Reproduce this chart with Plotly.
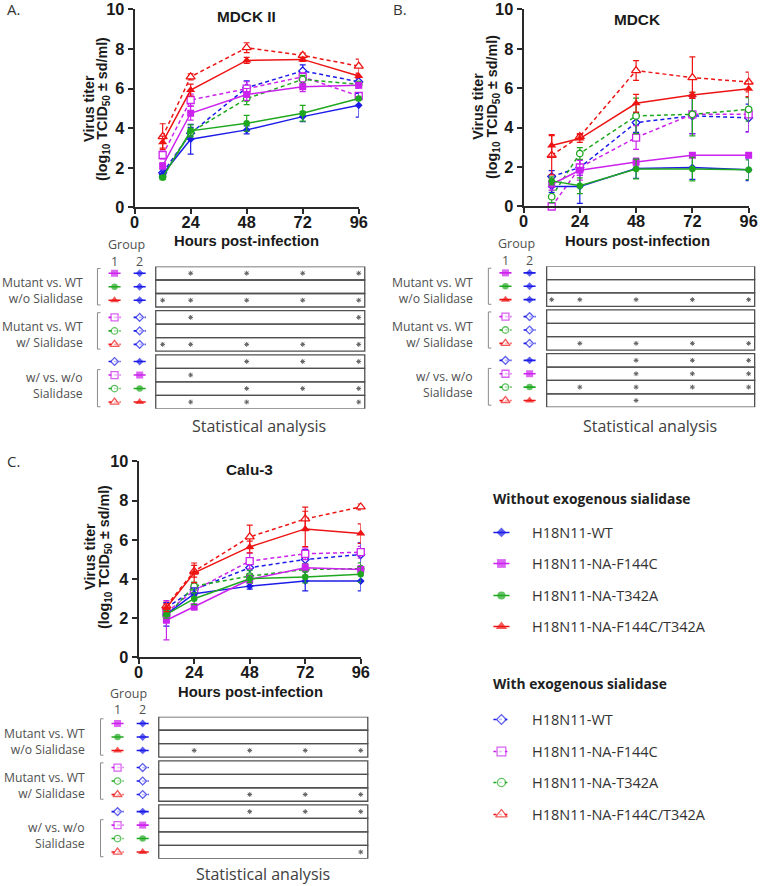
import plotly.graph_objects as go

W, H = 760, 886          # reference canvas
OFF_X, OFF_Y = 8, 9.5    # observed page offset of the figure
S_X, S_Y = 0.977, 0.98   # observed capture scale
FIG_W, FIG_H = 770, 898

HOURS = [12, 24, 48, 72, 96]
X_TICKS = [0, 24, 48, 72, 96]
Y_TICKS = [0, 2, 4, 6, 8, 10]
VIRUSES = ["WT", "F144C", "T342A", "F144C/T342A"]
VIRUS_LABELS = ["H18N11-WT", "H18N11-NA-F144C", "H18N11-NA-T342A", "H18N11-NA-F144C/T342A"]
PANEL_TITLES = ["MDCK II", "MDCK", "Calu-3"]
PANEL_LETTERS = ["A.", "B.", "C."]
GROUP_LABELS = ["Mutant vs. WT<br>w/o Sialidase", "Mutant vs. WT<br>w/ Sialidase", "w/ vs. w/o<br>Sialidase"]
LEGEND_HEADERS = ["Without exogenous sialidase", "With exogenous sialidase"]

# ---------------- Panel A: MDCK II ----------------
A_WT_WO = [1.68, 3.45, 3.92, 4.59, 5.16]
A_WT_WO_SD = [0.15, 0.75, 0.2, 0.25, 0.6]
A_F144C_WO = [2.1, 4.76, 5.71, 6.1, 6.17]
A_F144C_WO_SD = [0.15, 0.35, 0.3, 0.25, 0.15]
A_T342A_WO = [1.51, 3.87, 4.25, 4.76, 5.5]
A_T342A_WO_SD = [0.1, 0.3, 0.4, 0.4, 0.1]
A_DBL_WO = [3.3, 5.93, 7.43, 7.48, 6.64]
A_DBL_WO_SD = [0.3, 0.3, 0.15, 0.1, 0.1]
A_WT_W = [1.75, 3.75, 6.05, 6.9, 6.35]
A_WT_W_SD = [0.2, 0.3, 0.35, 0.3, 0.15]
A_F144C_W = [2.65, 5.43, 6.0, 6.6, 5.63]
A_F144C_W_SD = [0.2, 0.3, 0.35, 0.2, 0.15]
A_T342A_W = [1.55, 3.8, 5.5, 6.47, 6.22]
A_T342A_W_SD = [0.1, 0.2, 0.3, 0.2, 0.1]
A_DBL_W = [3.58, 6.6, 8.07, 7.68, 7.14]
A_DBL_W_SD = [0.65, 0.15, 0.25, 0.12, 0.35]

# ---------------- Panel B: MDCK ----------------
B_WT_WO = [1.01, 1.01, 1.93, 1.98, 1.86]
B_WT_WO_SD = [0.3, 0.85, 0.5, 0.6, 0.55]
B_F144C_WO = [1.13, 1.84, 2.26, 2.6, 2.6]
B_F144C_WO_SD = [0.3, 0.5, 0.2, 0.1, 0.1]
B_T342A_WO = [1.3, 1.05, 1.9, 1.9, 1.86]
B_T342A_WO_SD = [0.2, 0.4, 0.5, 0.6, 0.5]
B_DBL_WO = [3.1, 3.45, 5.24, 5.66, 5.98]
B_DBL_WO_SD = [0.55, 0.2, 0.45, 0.15, 0.4]
B_WT_W = [1.52, 1.98, 4.26, 4.6, 4.5]
B_WT_W_SD = [0.3, 0.4, 0.5, 0.9, 0.7]
B_F144C_W = [0.0, 1.98, 3.5, 4.68, 4.68]
B_F144C_W_SD = [0.1, 0.4, 0.6, 1.0, 0.9]
B_T342A_W = [0.5, 2.69, 4.6, 4.68, 4.93]
B_T342A_W_SD = [0.3, 0.3, 0.9, 1.1, 0.6]
B_DBL_W = [2.6, 3.55, 6.9, 6.54, 6.32]
B_DBL_W_SD = [1.0, 0.15, 0.5, 1.05, 0.5]

# ---------------- Panel C: Calu-3 ----------------
C_WT_WO = [2.2, 3.25, 3.64, 3.9, 3.9]
C_WT_WO_SD = [0.6, 0.3, 0.15, 0.5, 0.5]
C_F144C_WO = [1.9, 2.58, 3.98, 4.58, 4.49]
C_F144C_WO_SD = [1.0, 0.15, 0.2, 0.2, 0.2]
C_T342A_WO = [2.2, 3.0, 4.02, 4.1, 4.24]
C_T342A_WO_SD = [0.2, 0.3, 0.2, 0.3, 0.4]
C_DBL_WO = [2.54, 4.32, 5.64, 6.56, 6.32]
C_DBL_WO_SD = [0.2, 0.5, 0.3, 0.9, 0.5]
C_WT_W = [2.54, 3.47, 4.58, 5.0, 5.25]
C_WT_W_SD = [0.2, 0.3, 0.3, 0.5, 0.6]
C_F144C_W = [2.3, 3.42, 4.92, 5.29, 5.37]
C_F144C_W_SD = [0.3, 0.3, 0.4, 0.3, 0.3]
C_T342A_W = [2.1, 3.64, 4.15, 4.49, 4.53]
C_T342A_W_SD = [0.2, 0.2, 0.3, 0.3, 0.3]
C_DBL_W = [2.63, 4.4, 6.15, 7.07, 7.68]
C_DBL_W_SD = [0.2, 0.3, 0.6, 0.6, 0.15]

# ---------------- Statistical analysis (hours with significance) ----------------
SIG_A = [[24, 48, 72, 96], [], [12, 24, 48, 72, 96],
         [24, 96], [], [12, 24, 48, 72, 96],
         [48, 72, 96], [24], [48, 72, 96], [24, 48, 96]]
SIG_B = [[], [], [12, 24, 48, 72, 96],
         [], [], [24, 48, 72, 96],
         [48, 72, 96], [48, 72, 96], [24, 48, 72, 96], [48]]
SIG_C = [[], [], [24, 48, 72, 96],
         [], [], [48, 72, 96],
         [48, 72, 96], [], [], [96]]

# comparison rows: (group 1 series, group 2 series)
ROW_PAIRS = [
    (("F144C", "wo"), ("WT", "wo")),
    (("T342A", "wo"), ("WT", "wo")),
    (("F144C/T342A", "wo"), ("WT", "wo")),
    (("F144C", "w"), ("WT", "w")),
    (("T342A", "w"), ("WT", "w")),
    (("F144C/T342A", "w"), ("WT", "w")),
    (("WT", "w"), ("WT", "wo")),
    (("F144C", "w"), ("F144C", "wo")),
    (("T342A", "w"), ("T342A", "wo")),
    (("F144C/T342A", "w"), ("F144C/T342A", "wo")),
]

DATA = [
    {("WT", "wo"): (A_WT_WO, A_WT_WO_SD), ("F144C", "wo"): (A_F144C_WO, A_F144C_WO_SD),
     ("T342A", "wo"): (A_T342A_WO, A_T342A_WO_SD), ("F144C/T342A", "wo"): (A_DBL_WO, A_DBL_WO_SD),
     ("WT", "w"): (A_WT_W, A_WT_W_SD), ("F144C", "w"): (A_F144C_W, A_F144C_W_SD),
     ("T342A", "w"): (A_T342A_W, A_T342A_W_SD), ("F144C/T342A", "w"): (A_DBL_W, A_DBL_W_SD)},
    {("WT", "wo"): (B_WT_WO, B_WT_WO_SD), ("F144C", "wo"): (B_F144C_WO, B_F144C_WO_SD),
     ("T342A", "wo"): (B_T342A_WO, B_T342A_WO_SD), ("F144C/T342A", "wo"): (B_DBL_WO, B_DBL_WO_SD),
     ("WT", "w"): (B_WT_W, B_WT_W_SD), ("F144C", "w"): (B_F144C_W, B_F144C_W_SD),
     ("T342A", "w"): (B_T342A_W, B_T342A_W_SD), ("F144C/T342A", "w"): (B_DBL_W, B_DBL_W_SD)},
    {("WT", "wo"): (C_WT_WO, C_WT_WO_SD), ("F144C", "wo"): (C_F144C_WO, C_F144C_WO_SD),
     ("T342A", "wo"): (C_T342A_WO, C_T342A_WO_SD), ("F144C/T342A", "wo"): (C_DBL_WO, C_DBL_WO_SD),
     ("WT", "w"): (C_WT_W, C_WT_W_SD), ("F144C", "w"): (C_F144C_W, C_F144C_W_SD),
     ("T342A", "w"): (C_T342A_W, C_T342A_W_SD), ("F144C/T342A", "w"): (C_DBL_W, C_DBL_W_SD)},
]
SIGS = [SIG_A, SIG_B, SIG_C]

# ---------------- styles ----------------
COLORS = {"WT": "#1c1ce8", "F144C": "#cc22ee", "T342A": "#1fa81f", "F144C/T342A": "#ee1414"}
SYMBOLS = {"WT": "diamond", "F144C": "square", "T342A": "circle", "F144C/T342A": "triangle-up"}
SIZES = {"WT": 6, "F144C": 7, "T342A": 6.5, "F144C/T342A": 8}
DASH_W = "4px,3px"
AXIS_COLOR = "#2a2a2a"
BOLD_FONT = "Liberation Sans"
TEXT_FONT = "Open Sans"

# panel geometry in (reference) pixels
GEOM = [
    dict(cx=(137, 360), cy=(10, 208), tx=(8, 378), ty=(267, 409.3), box=(158, 366), lab=88, brk=100,
         cols=(117, 142), grp=(129, 245), nums_y=262.5, title=(248, 17), xlab=(248, 242),
         ytl=(92, 106), yty=109, stat=(261, 427), letter=(8, 10)),
    dict(cx=(524, 748), cy=(10, 207), tx=(382, 756), ty=(266.7, 407.7), box=(547, 754), lab=476, brk=489,
         cols=(506, 530), grp=(517, 244), nums_y=261.5, title=(637, 20), xlab=(637, 242),
         ytl=(479, 494), yty=107, stat=(650, 427), letter=(392, 10)),
    dict(cx=(141, 362), cy=(462, 658), tx=(8, 378), ty=(717.3, 859.3), box=(161, 369), lab=90, brk=103,
         cols=(120, 145), grp=(131, 694), nums_y=710.5, title=(251, 470), xlab=(252, 693),
         ytl=(93, 108), yty=557, stat=(265, 875), letter=(8, 462)),
]

GAP = 0.27
ROW_TOPS = [0, 1, 2, 3 + GAP, 4 + GAP, 5 + GAP, 6 + 2 * GAP, 7 + 2 * GAP, 8 + 2 * GAP, 9 + 2 * GAP]
ROW_TOTAL = 10 + 2 * GAP


def px_x(p):
    return (p - OFF_X) / S_X / FIG_W


def px_y(p):
    return 1 - (p - OFF_Y) / S_Y / FIG_H


def fs(size):
    return size / S_X


def names(n):
    s = "" if n == 1 else str(n)
    return "x" + s, "y" + s, "xaxis" + s, "yaxis" + s


fig = go.Figure()
layout = dict(width=FIG_W, height=FIG_H, margin=dict(l=0, r=0, t=0, b=0), paper_bgcolor="white",
              plot_bgcolor="rgba(0,0,0,0)", showlegend=False)
annotations = []
shapes = []


def marker_for(v, cond, scale=1.0):
    c = COLORS[v]
    if cond == "wo":
        return dict(symbol=SYMBOLS[v], size=SIZES[v] * scale, color=c, line=dict(width=0))
    return dict(symbol=SYMBOLS[v], size=SIZES[v] * scale, color="white", line=dict(color=c, width=1.3))


def glyph(xa, ya, xc, yc, half, v, cond, scale=1.0):
    m = marker_for(v, cond, scale)
    m["size"] = [0, m["size"], 0]
    fig.add_trace(go.Scatter(
        x=[xc - half, xc, xc + half], y=[yc, yc, yc], xaxis=xa, yaxis=ya, mode="lines+markers",
        line=dict(color=COLORS[v], width=1.6, dash=("solid" if cond == "wo" else "3px,2.5px")),
        marker=m, cliponaxis=False, hoverinfo="skip"))


for pi, g in enumerate(GEOM):
    nc, nt = 2 * pi + 1, 2 * pi + 2
    xa, ya, xk, yk = names(nc)
    txa, tya, txk, tyk = names(nt)
    cx0, cx1 = g["cx"]
    scale = 96.0 / (cx1 - cx0)

    def hrs(p, cx0=cx0, scale=scale):
        return (p - cx0) * scale

    # ---- chart axes ----
    layout[xk] = dict(domain=[px_x(cx0), px_x(cx1)], range=[0, 96], anchor=ya, tickvals=X_TICKS,
                      showline=True, linecolor=AXIS_COLOR, linewidth=2, ticks="outside", ticklen=5,
                      tickwidth=2, tickcolor=AXIS_COLOR, showgrid=False, zeroline=False,
                      ticklabelstandoff=-6,
                      tickfont=dict(family=BOLD_FONT, size=fs(16), color="#1a1a1a", weight="bold"))
    layout[yk] = dict(domain=[px_y(g["cy"][1]), px_y(g["cy"][0])], range=[0, 10], anchor=xa,
                      tickvals=Y_TICKS, showline=True, linecolor=AXIS_COLOR, linewidth=2,
                      ticks="outside", ticklen=5, tickwidth=2, tickcolor=AXIS_COLOR, showgrid=False,
                      zeroline=False, tickfont=dict(family=BOLD_FONT, size=fs(16), color="#1a1a1a", weight="bold"))
    # ---- series ----
    for cond in ["w", "wo"]:
        for v in VIRUSES:
            vals, sd = DATA[pi][(v, cond)]
            fig.add_trace(go.Scatter(
                x=HOURS, y=vals, xaxis=xa, yaxis=ya, mode="lines+markers",
                line=dict(color=COLORS[v], width=1.5, dash=(DASH_W if cond == "w" else "solid")),
                marker=marker_for(v, cond),
                error_y=dict(type="data", array=sd, visible=True, color=COLORS[v], thickness=1.2, width=3),
                cliponaxis=False, hoverinfo="skip"))

    # ---- table axes ----
    layout[txk] = dict(domain=[px_x(g["tx"][0]), px_x(g["tx"][1])],
                       range=[hrs(g["tx"][0]), hrs(g["tx"][1])], anchor=tya, visible=False)
    layout[tyk] = dict(domain=[px_y(g["ty"][1]), px_y(g["ty"][0])], range=[ROW_TOTAL, 0],
                       anchor=txa, visible=False)
    bx0, bx1 = hrs(g["box"][0]), hrs(g["box"][1])
    for r, top in enumerate(ROW_TOPS):
        shapes.append(dict(type="rect", xref=txa, yref=tya, x0=bx0, x1=bx1, y0=top, y1=top + 1,
                           line=dict(color="#505050", width=1.3), fillcolor="rgba(0,0,0,0)", layer="below"))
        (v1, c1), (v2, c2) = ROW_PAIRS[r]
        yc = top + 0.5
        half = 6 * scale
        glyph(txa, tya, hrs(g["cols"][0]), yc, half, v1, c1)
        glyph(txa, tya, hrs(g["cols"][1]), yc, half, v2, c2)
        hs = SIGS[pi][r]
        if hs:
            fig.add_trace(go.Scatter(
                x=hs, y=[yc] * len(hs), xaxis=txa, yaxis=tya, mode="markers",
                marker=dict(symbol="asterisk-open", size=4, color="#606060",
                            line=dict(color="#606060", width=1)),
                cliponaxis=False, hoverinfo="skip"))
    # brackets
    bk = hrs(g["brk"])
    tick = 3 * scale
    bracket_spans = [(ROW_TOPS[0] + 0.15, ROW_TOPS[2] + 0.85), (ROW_TOPS[3] + 0.15, ROW_TOPS[5] + 0.85),
                     (ROW_TOPS[7] + 0.1, ROW_TOPS[9] + 0.85)]
    for (y0, y1) in bracket_spans:
        shapes.append(dict(type="path", xref=txa, yref=tya,
                           path=f"M {bk + tick} {y0} L {bk} {y0} L {bk} {y1} L {bk + tick} {y1}",
                           line=dict(color="#8a8a8a", width=1)))
    # group labels
    label_centers = [1.8, 3 + GAP + 1.8, 6 + 2 * GAP + 2.3]
    for gi, txt in enumerate(GROUP_LABELS):
        annotations.append(dict(text=txt, xref=txa, yref=tya, x=hrs(g["lab"]), y=label_centers[gi],
                                xanchor="right", yanchor="middle", align="right", showarrow=False,
                                font=dict(family=TEXT_FONT, size=12.2, color="#505050")))
    # Group header
    annotations.append(dict(text="Group", xref="paper", yref="paper", x=px_x(g["grp"][0]), y=px_y(g["grp"][1]),
                            xanchor="center", yanchor="middle", showarrow=False, borderpad=0,
                            font=dict(family=TEXT_FONT, size=12.5, color="#505050")))
    for k, lab in enumerate(["1", "2"]):
        annotations.append(dict(text=lab, xref="paper", yref="paper", x=px_x(g["cols"][k]), y=px_y(g["nums_y"]),
                                xanchor="center", yanchor="middle", showarrow=False, borderpad=0,
                                font=dict(family=TEXT_FONT, size=12.5, color="#505050")))
    # titles
    annotations.append(dict(text=PANEL_TITLES[pi], xref="paper", yref="paper", x=px_x(g["title"][0]),
                            y=px_y(g["title"][1]), xanchor="center", yanchor="middle", showarrow=False,
                            font=dict(family=BOLD_FONT, size=fs(15), color="#1a1a1a", weight="bold")))
    annotations.append(dict(text="Hours post-infection", xref="paper", yref="paper", x=px_x(g["xlab"][0]),
                            y=px_y(g["xlab"][1]), xanchor="center", yanchor="middle", showarrow=False,
                            font=dict(family=BOLD_FONT, size=fs(14.5), color="#1a1a1a", weight="bold")))
    annotations.append(dict(text="Virus titer", xref="paper", yref="paper", x=px_x(g["ytl"][0]),
                            y=px_y(g["yty"]), xanchor="center", yanchor="middle", textangle=-90, showarrow=False,
                            font=dict(family=BOLD_FONT, size=fs(14), color="#1a1a1a", weight="bold")))
    annotations.append(dict(text="(log<sub>10</sub> TCID<sub>50</sub> ± sd/ml)", xref="paper", yref="paper",
                            x=px_x(g["ytl"][1]), y=px_y(g["yty"]), xanchor="center", yanchor="middle",
                            textangle=-90, showarrow=False,
                            font=dict(family=BOLD_FONT, size=fs(14), color="#1a1a1a", weight="bold")))
    annotations.append(dict(text="Statistical analysis", xref="paper", yref="paper", x=px_x(g["stat"][0]),
                            y=px_y(g["stat"][1]), xanchor="center", yanchor="middle", showarrow=False,
                            font=dict(family=TEXT_FONT, size=16, color="#404040")))
    annotations.append(dict(text=PANEL_LETTERS[pi], xref="paper", yref="paper", x=px_x(g["letter"][0]),
                            y=px_y(g["letter"][1]), xanchor="left", yanchor="middle", showarrow=False,
                            font=dict(family=TEXT_FONT, size=15, color="#333333")))

# ---------------- custom legend (pixel-unit axis) ----------------
lxa, lya, lxk, lyk = names(7)
layout[lxk] = dict(domain=[px_x(480), px_x(756)], range=[480, 756], anchor=lya, visible=False)
layout[lyk] = dict(domain=[px_y(840), px_y(480)], range=[840, 480], anchor=lxa, visible=False)
LEG_HEADER_Y = [499, 684]
LEG_ITEM_Y = [[533, 564, 596, 627], [720, 752, 783, 815]]
for si, cond in enumerate(["wo", "w"]):
    annotations.append(dict(text=LEGEND_HEADERS[si], xref=lxa, yref=lya, x=492, y=LEG_HEADER_Y[si],
                            xanchor="left", yanchor="middle", showarrow=False,
                            font=dict(family=TEXT_FONT, size=13.8, color="#222222", weight="bold")))
    for vi, v in enumerate(VIRUSES):
        yy = LEG_ITEM_Y[si][vi]
        glyph(lxa, lya, 502, yy, 8, v, cond, scale=1.25)
        annotations.append(dict(text=VIRUS_LABELS[vi], xref=lxa, yref=lya, x=530, y=yy,
                                xanchor="left", yanchor="middle", showarrow=False,
                                font=dict(family=TEXT_FONT, size=14.5, color="#333333")))

layout["annotations"] = annotations
layout["shapes"] = shapes
fig.update_layout(**layout)
fig.write_html("out.html", config={"displayModeBar": False},
               post_script="document.body.style.margin='0';document.body.style.overflow='hidden';")
